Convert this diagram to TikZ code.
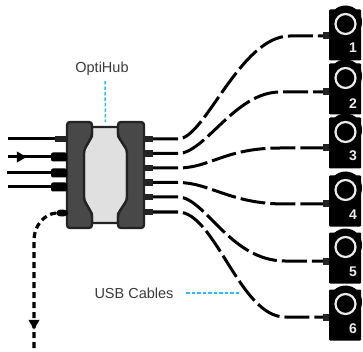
\documentclass[tikz,border=0pt]{standalone}
\usepackage{fontspec}
\setmainfont{Liberation Sans}
\usepackage{tikz}
\usetikzlibrary{shapes.geometric}
\usepackage{xcolor}
\definecolor{platedark}{HTML}{484848}
\definecolor{edgedark}{HTML}{232323}
\definecolor{corelight}{HTML}{E0E0E0}
\definecolor{leaderblue}{HTML}{2FBDF0}
\definecolor{labelgrey}{HTML}{3A3A3A}
\definecolor{ringwhite}{HTML}{ECECEC}

\begin{document}
\begin{tikzpicture}[
    x=1pt, y=-1pt,
    wire/.style={line width=3pt},
    cable/.style={line width=3pt, dash pattern=on 25pt off 5pt},
    hdmi/.style={line width=3.2pt, dash pattern=on 6pt off 4pt},
    leader/.style={draw=leaderblue, line width=1.5pt, dash pattern=on 3.5pt off 2pt},
    plate/.style={draw=edgedark, fill=platedark, line width=2.4pt, rounded corners=3pt},
    plug/.style={draw=none, fill=edgedark, inner sep=0pt, outer sep=0pt, minimum width=9pt, minimum height=6.5pt},
    taper/.style={draw=none, fill=black, rounded corners=2pt, inner sep=0pt, outer sep=0pt, minimum width=16pt, minimum height=9pt},
    tiphead/.style={draw=none, fill=black, regular polygon, regular polygon sides=3, inner sep=0pt, minimum size=13pt},
    devhead/.style={circle, fill=black, inner sep=0pt, outer sep=0pt, minimum size=33pt},
    devbody/.style={rectangle, fill=black, rounded corners=1pt, inner sep=0pt, outer sep=0pt, minimum width=32pt, minimum height=51pt},
    devring/.style={circle, draw=ringwhite, line width=2.2pt, inner sep=0pt, minimum size=20pt},
    devnum/.style={text=ringwhite, font=\fontsize{14}{14}\selectfont\bfseries, inner sep=0pt},
    devplug/.style={draw=none, fill=edgedark, inner sep=0pt, outer sep=0pt, minimum width=6pt, minimum height=7pt},
    caption/.style={text=labelgrey, font=\fontsize{14.5}{14.5}\selectfont, inner sep=0pt}
]
\useasboundingbox (0,0) rectangle (363,352);

% ---- Hub ----
\node[minimum width=78pt, minimum height=106pt, inner sep=0pt, outer sep=0pt] (hub) at (105.5,175) {};
\draw[draw=edgedark, fill=corelight, line width=2.4pt] (92,127) -- (118,127) -- (118,136) -- (127,150) -- (127,200) -- (118,214) -- (118,223) -- (92,223) -- (92,214) -- (84,200) -- (84,150) -- (92,136) -- cycle;
\draw[plate] (92,122) -- (67,122) -- (67,228) -- (92,228) -- (92,214) -- (84,200) -- (84,150) -- (92,136) -- cycle;
\draw[plate] (118,122) -- (144,122) -- (144,228) -- (118,228) -- (118,214) -- (127,200) -- (127,150) -- (118,136) -- cycle;

% ---- Hub plugs, left ----
\node[plug, minimum width=12pt] (inA) at (61,139) {};
\node[taper] (inB) at (59,157) {};
\node[taper] (inC) at (59,173) {};
\node[taper] (inD) at (59,187) {};
\node[ellipse, fill=black, inner sep=0pt, outer sep=0pt, minimum width=12pt, minimum height=7pt] (inE) at (62,213) {};

% ---- Hub plugs, right ----
\node[plug] (outA) at (148.5,139) {};
\node[plug] (outB) at (148.5,153.5) {};
\node[plug] (outC) at (148.5,168) {};
\node[plug] (outD) at (148.5,182.5) {};
\node[plug] (outE) at (148.5,197) {};
\node[plug] (outF) at (148.5,212) {};

% ---- Input wires ----
\coordinate (srcA) at (8,139);
\coordinate (srcB) at (8,157);
\coordinate (srcC) at (7,173);
\coordinate (srcD) at (8,187);
\coordinate (sink) at (34,352);
\draw[wire] (srcA) -- (inA);
\draw[wire] (srcB) -- (inB);
\draw[wire] (srcC) -- (inC);
\draw[wire] (srcD) -- (inD);
\node[tiphead, rotate=-90] (tipA) at (20,157) {};

% ---- Return line ----
\draw[hdmi] (inE.west) .. controls (45,214) and (34,225) .. (34,240) -- (sink);
\node[tiphead, rotate=180] (tipB) at (34,323) {};

% ---- Devices ----
\node[devhead] (headA) at (345.5,22) {};
\node[devbody] (devA) at (345,35) {};
\node[devring] (ringA) at (345.5,24) {};
\node[devnum] (numA) at (353,48) {1};
\node[devplug] (inA2) at (326,36) {};

\node[devhead] (headB) at (345.5,76) {};
\node[devbody] (devB) at (345,89) {};
\node[devring] (ringB) at (345.5,78) {};
\node[devnum] (numB) at (353,104) {2};
\node[devplug] (inB2) at (326,92) {};

\node[devhead] (headC) at (345.5,130) {};
\node[devbody] (devC) at (345,143) {};
\node[devring] (ringC) at (345.5,132) {};
\node[devnum] (numC) at (353,156) {3};
\node[devplug] (inC2) at (326,148) {};

\node[devhead] (headD) at (345.5,188) {};
\node[devbody] (devD) at (345,201) {};
\node[devring] (ringD) at (345.5,190) {};
\node[devnum] (numD) at (353,215) {4};
\node[devplug] (inD2) at (326,204) {};

\node[devhead] (headE) at (345.5,245) {};
\node[devbody] (devE) at (345,258) {};
\node[devring] (ringE) at (345.5,247) {};
\node[devnum] (numE) at (353,272) {5};
\node[devplug] (inE2) at (326,261) {};

\node[devhead] (headF) at (345.5,302) {};
\node[devbody] (devF) at (345,315) {};
\node[devring] (ringF) at (345.5,304) {};
\node[devnum] (numF) at (353,329) {6};
\node[devplug] (inF2) at (326,317) {};

% ---- USB cables ----
\draw[cable] (outA.east) -- ++(25,0) .. controls (205,139) and (240,36) .. (290,36) -- (inA2.west);
\draw[cable] (outB.east) -- ++(25,0) .. controls (205,153.5) and (235,92) .. (280,92) -- (inB2.west);
\draw[cable] (outC.east) -- ++(25,0) .. controls (210,168) and (225,148) .. (280,148) -- (inC2.west);
\draw[cable] (outD.east) -- ++(25,0) .. controls (210,182.5) and (230,204) .. (285,204) -- (inD2.west);
\draw[cable] (outE.east) -- ++(25,0) .. controls (205,197) and (230,261) .. (285,261) -- (inE2.west);
\draw[cable] (outF.east) -- ++(25,0) .. controls (215,212) and (240,317) .. (285,317) -- (inF2.west);

% ---- Labels ----
\node[caption] (hubname) at (102,69) {OptiHub};
\node[caption] (usbname) at (134,293) {USB Cables};
\coordinate (usbend) at (241,293);
\coordinate (hubtop) at (105,81);
\coordinate (usbstart) at (186,293);
\draw[leader] (hubtop) -- (hub.north);
\draw[leader] (usbstart) -- (usbend);

\end{tikzpicture}
\end{document}
